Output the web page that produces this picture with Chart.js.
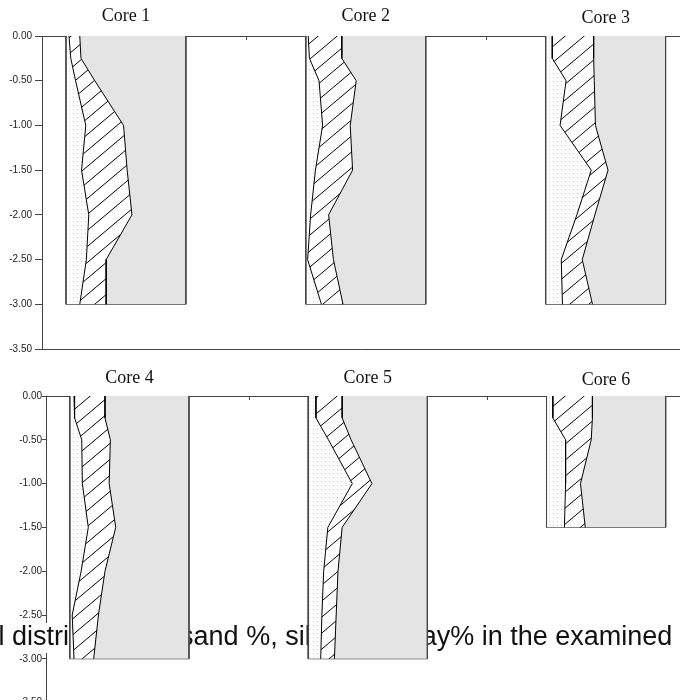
<!DOCTYPE html>
<html>
<head>
<meta charset="utf-8">
<script src="https://cdn.jsdelivr.net/npm/chart.js@4.4.0/dist/chart.umd.min.js"></script>
<style>
  html, body { margin: 0; padding: 0; background: #fff; overflow: hidden; }
  body { width: 680px; height: 700px; position: relative; }
  canvas { position: absolute; left: 0; }
  #topPanel { top: 0; }
  #bottomPanel { top: 360px; }
</style>
</head>
<body>
<canvas id="topPanel" width="680" height="360"></canvas>
<canvas id="bottomPanel" width="680" height="360"></canvas>
<script>
// depth below the surface (m)
const depths = [0, -0.25, -0.5, -1, -1.5, -2, -2.5, -3];
const depthsCore6 = [0, -0.25, -0.5, -1, -1.5];
const depthTicks = [0, -0.5, -1, -1.5, -2, -2.5, -3, -3.5];

const coreNames = ["Core 1", "Core 2", "Core 3", "Core 4", "Core 5", "Core 6"];

// grain size fractions (%) at each depth
const sand1 = [2.5, 4, 8, 16.5, 13, 19, 17, 11.5];
const silt1 = [9, 8.5, 16, 31.5, 38, 36, 16.5, 22];
const clay1 = [88.5, 87.5, 76, 52, 49, 45, 66.5, 66.5];

const sand2 = [2, 3, 11, 14, 8, 4, 1.5, 13];
const silt2 = [28, 27, 31, 23, 31, 15, 21.5, 18];
const clay2 = [70, 70, 58, 63, 61, 81, 77, 69];

const sand3 = [5.5, 5.5, 17, 12, 38, 26, 13, 14];
const silt3 = [34.5, 34.5, 23.5, 29.5, 14, 15, 17.5, 25];
const clay3 = [60, 60, 59.5, 58.5, 48, 59, 69.5, 61];

const sand4 = [3.5, 4, 10, 10.5, 15.5, 9.5, 2, 3.5];
const silt4 = [26, 25.5, 24, 22.5, 23, 20, 22, 16.5];
const clay4 = [70.5, 70.5, 66, 67, 61.5, 70.5, 76, 80];

const sand5 = [6.5, 6.5, 17, 37, 16.5, 13, 11.5, 10.5];
const silt5 = [22, 22, 19, 16.5, 12, 12, 12, 11.5];
const clay5 = [71.5, 71.5, 64, 46.5, 71.5, 75, 76.5, 78];

const sand6 = [5.3, 5.3, 16, 16, 15];
const silt6 = [33.2, 33.2, 21.5, 12.5, 17.5];
const clay6 = [61.5, 61.5, 62.5, 71.5, 67.5];

// boundaries between the three columns on the shared x scale
const slotTicks = [150, 350];

const captionText = "Vertical distribution of sand %, silt% and clay% in the examined cores";

const EDGE = "#444";

function dotPattern(ctx) {
  const c = document.createElement("canvas");
  c.width = 4;
  c.height = 4;
  const g = c.getContext("2d");
  g.fillStyle = "#fff";
  g.fillRect(0, 0, 4, 4);
  g.fillStyle = "#cfcfcf";
  g.fillRect(1, 1, 1, 1);
  return ctx.createPattern(c, "repeat");
}

function hatchPattern(ctx) {
  const w = 19, h = 16;
  const c = document.createElement("canvas");
  c.width = w;
  c.height = h;
  const g = c.getContext("2d");
  g.fillStyle = "#fff";
  g.fillRect(0, 0, w, h);
  g.strokeStyle = "#000";
  g.lineWidth = 1;
  for (let k = -1; k <= 1; k++) {
    g.beginPath();
    g.moveTo(k * w - w, 2 * h);
    g.lineTo(k * w + 2 * w, -h);
    g.stroke();
  }
  return ctx.createPattern(c, "repeat");
}

// one core = left edge, sand|silt line, silt|clay line, right edge, bottom edge
function coreDatasets(slot, d, sand, silt, clay, pats) {
  const o = slot * 200;
  const b1 = d.map((y, i) => ({ x: o + sand[i], y }));
  const b2 = d.map((y, i) => ({ x: o + sand[i] + silt[i], y }));
  const right = d.map((y, i) => ({ x: o + sand[i] + silt[i] + clay[i], y }));
  const last = d[d.length - 1];
  return [
    { data: d.map((y) => ({ x: o, y })), borderColor: EDGE, fill: false },
    { data: b1, borderColor: "#000", fill: "-1", backgroundColor: pats.dots },
    { data: b2, borderColor: "#000", fill: "-1", backgroundColor: pats.hatch },
    { data: right, borderColor: EDGE, fill: "-1", backgroundColor: "#e4e4e4" },
    { data: [{ x: o, y: last }, { x: o + 100, y: last }], borderColor: EDGE, fill: false },
  ];
}

const panelDecor = {
  id: "panelDecor",
  beforeDatasetsDraw(chart, args, opts) {
    if (!opts.caption) return;
    const ctx = chart.ctx;
    ctx.save();
    ctx.font = "27px 'Liberation Sans', Arial, sans-serif";
    // the start of the caption runs off the left edge
    const x0 = -1.5 - ctx.measureText("Vertica").width;
    ctx.fillStyle = "#fff";
    ctx.fillRect(0, opts.captionY - 22, chart.width, 30);
    ctx.fillStyle = "#111";
    ctx.textBaseline = "alphabetic";
    ctx.textAlign = "left";
    ctx.fillText(opts.caption, x0, opts.captionY);
    ctx.restore();
  },
  afterDraw(chart, args, opts) {
    const { ctx, chartArea, scales } = chart;
    ctx.save();
    ctx.strokeStyle = EDGE;
    ctx.lineWidth = 1;
    slotTicks.forEach((v) => {
      const px = Math.round(scales.x.getPixelForValue(v)) + 0.5;
      ctx.beginPath();
      ctx.moveTo(px, chartArea.top);
      ctx.lineTo(px, chartArea.top + 4);
      ctx.stroke();
    });
    ctx.font = "18px 'Liberation Serif', 'Times New Roman', serif";
    ctx.fillStyle = "#111";
    ctx.textAlign = "center";
    ctx.textBaseline = "middle";
    opts.names.forEach((n, i) => {
      const dy = i === 2 ? 2 : 0;
      ctx.fillText(n, scales.x.getPixelForValue(i * 200 + 50), chartArea.top - opts.titleGap + dy);
    });
    ctx.restore();
  },
};

function makePanel(id, cores, cfg) {
  const canvas = document.getElementById(id);
  const ctx = canvas.getContext("2d");
  const pats = { dots: dotPattern(ctx), hatch: hatchPattern(ctx) };
  let datasets = [];
  cores.forEach((c, slot) => {
    datasets = datasets.concat(coreDatasets(slot, c[0], c[1], c[2], c[3], pats));
  });

  return new Chart(ctx, {
    type: "line",
    data: { datasets },
    plugins: [panelDecor],
    options: {
      indexAxis: "y",
      responsive: false,
      devicePixelRatio: 1,
      animation: false,
      events: [],
      layout: { padding: { top: 36, bottom: canvas.height - cfg.areaBottom, left: 0, right: 0 } },
      elements: {
        point: { radius: 0, hoverRadius: 0 },
        line: { borderWidth: 1, tension: 0 },
      },
      plugins: {
        legend: { display: false },
        tooltip: { enabled: false },
        panelDecor: {
          names: cfg.names,
          titleGap: cfg.titleGap,
          caption: cfg.caption,
          captionY: cfg.captionY,
        },
      },
      scales: {
        x: {
          type: "linear",
          position: "top",
          min: -20,
          max: 512,
          ticks: { display: false },
          grid: { display: false },
          border: { display: true, color: EDGE, width: 1 },
          afterFit: (s) => { s.height = 0; },
        },
        x2: {
          type: "linear",
          position: "bottom",
          min: -20,
          max: 512,
          ticks: { display: false },
          grid: { display: false },
          border: { display: true, color: EDGE, width: 1 },
          afterFit: (s) => { s.height = 0; },
        },
        y: {
          type: "linear",
          min: -3.5,
          max: 0,
          afterBuildTicks: (s) => { s.ticks = depthTicks.map((v) => ({ value: v })); },
          ticks: {
            callback: (v) => Number(v).toFixed(2),
            font: { family: "'Liberation Sans', Arial, sans-serif", size: 10 },
            color: "#222",
            padding: cfg.tickPad,
          },
          grid: { drawOnChartArea: false, drawTicks: true, tickLength: cfg.tickLen, color: EDGE },
          border: { display: true, color: EDGE, width: 1 },
          afterFit: (s) => { s.width = cfg.axisWidth; },
        },
      },
    },
  });
}

makePanel(
  "topPanel",
  [
    [depths, sand1, silt1, clay1],
    [depths, sand2, silt2, clay2],
    [depths, sand3, silt3, clay3],
  ],
  { names: coreNames.slice(0, 3), axisWidth: 42, areaBottom: 349, tickLen: 7, tickPad: 3, titleGap: 20 }
);

makePanel(
  "bottomPanel",
  [
    [depths, sand4, silt4, clay4],
    [depths, sand5, silt5, clay5],
    [depthsCore6, sand6, silt6, clay6],
  ],
  {
    names: coreNames.slice(3, 6),
    axisWidth: 46,
    areaBottom: 342.6,
    tickLen: 4,
    tickPad: 0,
    titleGap: 18,
    caption: captionText,
    captionY: 285,
  }
);
</script>
</body>
</html>
